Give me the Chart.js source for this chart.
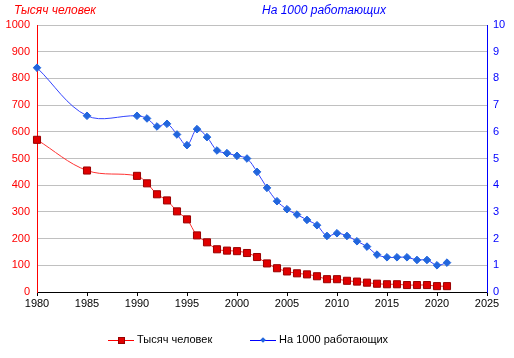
<!DOCTYPE html>
<html>
<head>
<meta charset="utf-8">
<script src="https://cdn.jsdelivr.net/npm/chart.js@4"></script>
<style>
  body { margin: 0; background: #fff; font-family: "Liberation Sans", Arial, sans-serif; }
  #wrap { position: relative; width: 514px; height: 358px; }
  .ttl { position: absolute; top: 3px; font-size: 12px; font-style: italic; white-space: nowrap; }
  #legend { position: absolute; top: 333px; left: 0; width: 514px; font-size: 11px; }
  .item { position: absolute; top: 0; white-space: nowrap; }
  .sym { display: inline-block; position: relative; width: 26px; height: 12px; vertical-align: middle; }
  .sym .ln { position: absolute; left: 0; right: 0; top: 6px; height: 1px; }
  .sym .mk { position: absolute; }
</style>
</head>
<body>
<div id="wrap">
  <canvas id="chart" width="514" height="358"></canvas>
  <div class="ttl" style="left:14px;color:#ff0000">Тысяч человек</div>
  <div class="ttl" style="left:262px;color:#0000ff">На 1000 работающих</div>
  <div id="legend">
    <div class="item" style="left:108px">
      <span class="sym"><span class="ln" style="background:#ff0000"></span><span class="mk" style="left:10px;top:3px;width:5px;height:5px;background:#e00000;border:1px solid #990000"></span></span> Тысяч человек
    </div>
    <div class="item" style="left:250px">
      <span class="sym"><span class="ln" style="background:#0000ff"></span><span class="mk" style="left:11px;top:4px;width:4px;height:4px;background:#2266dd;transform:rotate(45deg)"></span></span> На 1000 работающих
    </div>
  </div>
</div>
<script>
const years = [1980, 1985, 1990, 1991, 1992, 1993, 1994, 1995, 1996, 1997, 1998, 1999,
  2000, 2001, 2002, 2003, 2004, 2005, 2006, 2007, 2008, 2009, 2010,
  2011, 2012, 2013, 2014, 2015, 2016, 2017, 2018, 2019, 2020, 2021];
const thousands = [570, 455, 435, 407, 366, 343, 302, 272, 212, 186, 160, 155,
  153, 146, 131, 107, 89, 77, 70, 66, 59, 48, 48,
  42, 39, 35, 31, 29, 29, 26, 26, 26, 22, 22];
const per1000 = [8.4, 6.6, 6.6, 6.5, 6.2, 6.3, 5.9, 5.5, 6.1, 5.8, 5.3, 5.2,
  5.1, 5.0, 4.5, 3.9, 3.4, 3.1, 2.9, 2.7, 2.5, 2.1, 2.2,
  2.1, 1.9, 1.7, 1.4, 1.3, 1.3, 1.3, 1.2, 1.2, 1.0, 1.1];

const font = { family: '"Liberation Sans", Arial, sans-serif', size: 11 };

function pts(vals) {
  return years.map((y, i) => ({ x: y, y: vals[i] }));
}

new Chart(document.getElementById('chart'), {
  type: 'line',
  data: {
    datasets: [
      {
        label: 'Тысяч человек',
        data: pts(thousands),
        yAxisID: 'y',
        borderColor: '#ff3333',
        borderWidth: 1,
        backgroundColor: '#e00000',
        pointBorderColor: '#990000',
        pointBorderWidth: 1,
        pointStyle: 'rect',
        pointRadius: 5,
        tension: 0.35,
        clip: false
      },
      {
        label: 'На 1000 работающих',
        data: pts(per1000),
        yAxisID: 'y2',
        borderColor: '#3344ff',
        borderWidth: 1,
        backgroundColor: '#2266dd',
        pointBorderColor: '#2266dd',
        pointStyle: 'rectRot',
        pointRadius: 3.8,
        tension: 0.35,
        clip: false
      }
    ]
  },
  options: {
    responsive: false,
    animation: false,
    layout: { padding: { top: 25, left: 0, right: 0, bottom: 0 } },
    plugins: { legend: { display: false }, tooltip: { enabled: false } },
    scales: {
      x: {
        type: 'linear', min: 1980, max: 2025,
        afterFit: s => { s.height = 66; },
        ticks: { stepSize: 5, color: '#000', font: font, padding: 1, callback: v => String(v) },
        grid: { drawOnChartArea: false, drawTicks: true, tickLength: 4, color: '#000' },
        border: { color: '#000' }
      },
      y: {
        position: 'left', min: 0, max: 1000,
        afterFit: s => { s.width = 37; },
        ticks: { stepSize: 100, color: '#ff0000', font: font, padding: 7, callback: v => String(v) },
        grid: { color: '#c0c0c0', drawTicks: false },
        border: { color: '#ff0000' }
      },
      y2: {
        position: 'right', min: 0, max: 10,
        afterFit: s => { s.width = 27; },
        ticks: { stepSize: 1, color: '#0000ff', font: font, padding: 6, callback: v => String(v) },
        grid: { drawOnChartArea: false, drawTicks: false },
        border: { color: '#0000ff' }
      }
    }
  }
});
</script>
</body>
</html>
